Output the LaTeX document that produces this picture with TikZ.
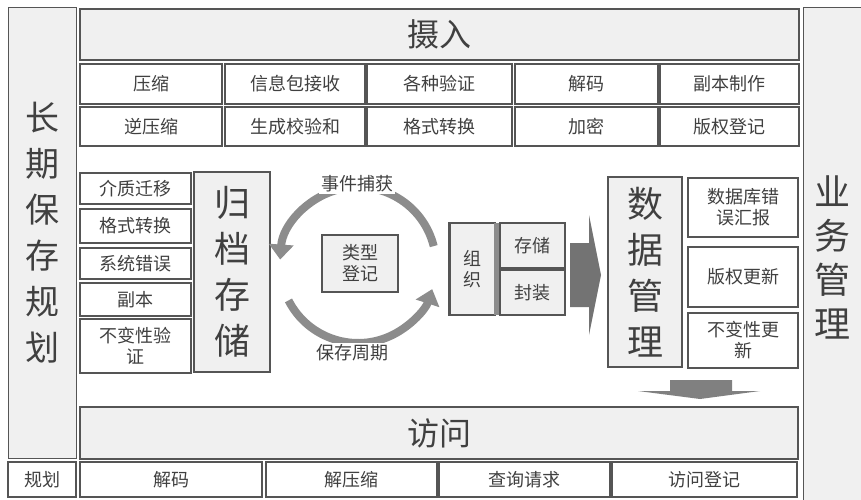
\documentclass[tikz,border=0pt]{standalone}
\usepackage{fontspec}
\setmainfont{Noto Sans CJK SC}
\usetikzlibrary{arrows.meta}
\definecolor{bd}{HTML}{555555}
\definecolor{pn}{HTML}{F0F0F0}
\definecolor{tx}{HTML}{404040}
\definecolor{ar}{HTML}{8C8C8C}
% \bx{style}{x1}{y1}{x2}{y2}{name}{text}
\newcommand\bx[7]{\node[#1, minimum width={#4pt-#2pt}, minimum height={#5pt-#3pt}] (#6) at ({(#2+#4)/2},{(#3+#5)/2}) {#7};}
\begin{document}
\begin{tikzpicture}[x=1pt,y=-1pt,
  every node/.style={text=tx, inner sep=0pt},
  panel/.style={draw=bd, fill=pn, line width=1pt, align=center, font=\fontsize{34}{46}\selectfont},
  ttl/.style={draw=bd, fill=pn, line width=1.8pt, font=\fontsize{32}{32}\selectfont},
  cell/.style={draw=bd, fill=white, line width=1.2pt, font=\fontsize{18}{21}\selectfont, align=center},
  gcell/.style={cell, fill=pn},
  big/.style={font=\fontsize{36}{46}\selectfont, align=center},
  lbl/.style={fill=white, inner sep=2pt, font=\fontsize{18}{21}\selectfont},
  arc/.style={draw=ar, line width=8pt}]
\fill[white] (0,0) rectangle (861,500);
\useasboundingbox (0,0) rectangle (861,500);

% side panels
\bx{panel}{8}{8}{76}{458}{lp}{长\\期\\保\\存\\规\\划}
\bx{cell}{8}{462}{76}{497}{gh}{规划}
\bx{panel, font=\fontsize{36}{44}\selectfont}{803}{8}{862}{507}{rp}{业\\务\\管\\理}

% ingest
\bx{ttl}{80}{9}{799}{60}{sr}{摄入}
\bx{cell}{80}{64}{222}{104}{a1}{压缩}
\bx{cell}{225}{64}{365}{104}{a2}{信息包接收}
\bx{cell}{367}{64}{512}{104}{a3}{各种验证}
\bx{cell}{515}{64}{658}{104}{a4}{解码}
\bx{cell}{660}{64}{799}{104}{a5}{副本制作}
\bx{cell}{80}{107}{222}{146}{b1}{逆压缩}
\bx{cell}{225}{107}{365}{146}{b2}{生成校验和}
\bx{cell}{367}{107}{512}{146}{b3}{格式转换}
\bx{cell}{515}{107}{658}{146}{b4}{加密}
\bx{cell}{660}{107}{799}{146}{b5}{版权登记}

% archive storage
\bx{cell}{80}{173}{191}{204}{l1}{介质迁移}
\bx{cell}{80}{209}{191}{243}{l2}{格式转换}
\bx{cell}{80}{248}{191}{279}{l3}{系统错误}
\bx{cell}{80}{283}{191}{316}{l4}{副本}
\bx{cell}{80}{319}{191}{373}{l5}{不变性验\\证}
\bx{gcell, big}{194}{172}{270}{372}{gd}{归\\档\\存\\储}

% cycle
\coordinate (cc) at (358,265);
\draw[arc, -{Triangle[width=24pt,length=15pt]}] ([shift={(14:78pt)}]cc) arc[start angle=14, end angle=176, radius=78pt];
\draw[arc, -{Triangle[width=24pt,length=15pt]}] ([shift={(207:78pt)}]cc) arc[start angle=207, end angle=342, radius=78pt];
\node[lbl] (sj) at (357,184) {事件捕获};
\node[lbl] (bc) at (352,353) {保存周期};
\bx{gcell}{322}{235}{398}{292}{lx}{类型\\登记}

% organise
\bx{gcell}{450}{223}{495}{315}{zz}{组\\织}
\draw[bd, line width=3pt] (zz.north west) -- (zz.south west);
\fill[ar] (494,223) rectangle (500,315);
\bx{gcell}{500}{223}{565}{268}{cc1}{存储}
\bx{gcell}{500}{270}{565}{315}{fz}{封装}
\fill[black!55] (570,243) -- (589,243) -- (589,215) -- (601,275) -- (589,335) -- (589,307) -- (570,307) -- cycle;

% data management
\bx{gcell, big}{608}{177}{682}{367}{sg}{数\\据\\管\\理}
\bx{cell}{688}{178}{798}{237}{r1}{数据库错\\误汇报}
\bx{cell}{688}{247}{798}{307}{r2}{版权更新}
\bx{cell}{688}{313}{798}{368}{r3}{不变性更\\新}
\fill[black!50] (670,380) -- (732,380) -- (732,391) -- (760,391) -- (700,399) -- (638,391) -- (670,391) -- cycle;

% access
\bx{ttl}{80}{407}{798}{459}{fw}{访问}
\bx{cell}{80}{462}{262}{497}{d1}{解码}
\bx{cell}{266}{462}{437}{497}{d2}{解压缩}
\bx{cell}{439}{462}{610}{497}{d3}{查询请求}
\bx{cell}{612}{462}{797}{497}{d4}{访问登记}
\end{tikzpicture}
\end{document}
